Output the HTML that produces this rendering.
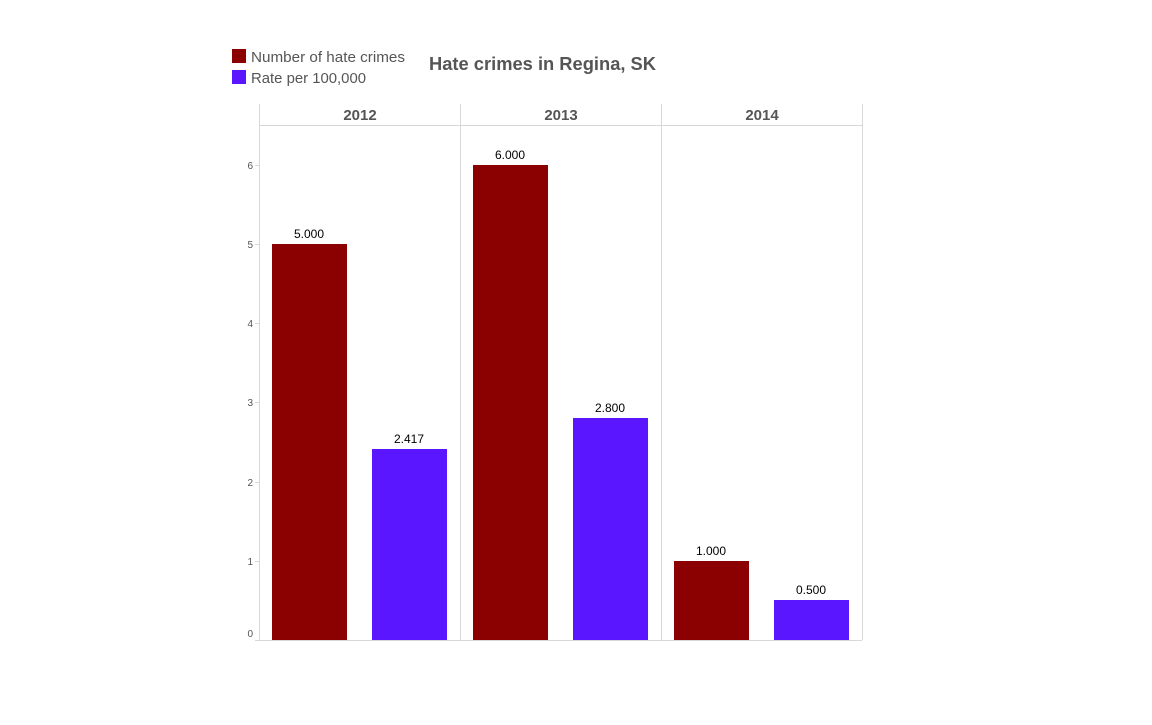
<!DOCTYPE html>
<html><head><style>body{margin:0;background:#fff}</style></head><body>
<svg width="1152" height="720" xmlns="http://www.w3.org/2000/svg" font-family="Liberation Sans, DejaVu Sans, sans-serif">
<rect width="1152" height="720" fill="#fff"/>
<rect x="232" y="49" width="14" height="14" fill="#8b0000"/>
<rect x="232" y="70" width="14" height="14" fill="#5a17ff"/>
<text x="251" y="62" font-size="14.5" fill="#555" textLength="154" lengthAdjust="spacingAndGlyphs">Number of hate crimes</text>
<text x="251" y="83" font-size="14.5" fill="#555" textLength="115" lengthAdjust="spacingAndGlyphs">Rate per 100,000</text>
<text x="429" y="70" font-size="18" font-weight="bold" fill="#555" textLength="227" lengthAdjust="spacingAndGlyphs">Hate crimes in Regina, SK</text>
<g stroke="#d8d8d8" stroke-width="1" fill="none">
<line x1="259.5" y1="104" x2="259.5" y2="640"/>
<line x1="460.5" y1="104" x2="460.5" y2="640"/>
<line x1="661.5" y1="104" x2="661.5" y2="640"/>
<line x1="862.5" y1="104" x2="862.5" y2="640"/>
<line x1="259" y1="125.5" x2="862" y2="125.5"/>
<line x1="255" y1="640.5" x2="862" y2="640.5"/>
<line x1="255" y1="165.5" x2="259" y2="165.5"/>
<line x1="255" y1="244.5" x2="259" y2="244.5"/>
<line x1="255" y1="323.5" x2="259" y2="323.5"/>
<line x1="255" y1="402.5" x2="259" y2="402.5"/>
<line x1="255" y1="482.5" x2="259" y2="482.5"/>
<line x1="255" y1="561.5" x2="259" y2="561.5"/>
</g>
<g font-size="15" font-weight="bold" fill="#555" text-anchor="middle">
<text x="360" y="120">2012</text><text x="561" y="120">2013</text><text x="762" y="120">2014</text>
</g>
<g font-size="10" fill="#555" text-anchor="end">
<text x="253" y="169">6</text><text x="253" y="248">5</text><text x="253" y="327">4</text>
<text x="253" y="406">3</text><text x="253" y="486">2</text><text x="253" y="565">1</text><text x="253" y="637">0</text>
</g>
<rect x="272" y="244" width="75" height="396" fill="#8b0000"/>
<rect x="372" y="449" width="75" height="191" fill="#5a17ff"/>
<rect x="473" y="165" width="75" height="475" fill="#8b0000"/>
<rect x="573" y="418" width="75" height="222" fill="#5a17ff"/>
<rect x="674" y="561" width="75" height="79" fill="#8b0000"/>
<rect x="774" y="600" width="75" height="40" fill="#5a17ff"/>
<g font-size="12" fill="#000" text-anchor="middle">
<text x="309" y="238">5.000</text><text x="409" y="443">2.417</text>
<text x="510" y="159">6.000</text><text x="610" y="412">2.800</text>
<text x="711" y="555">1.000</text><text x="811" y="594">0.500</text>
</g>
</svg>
</body></html>
